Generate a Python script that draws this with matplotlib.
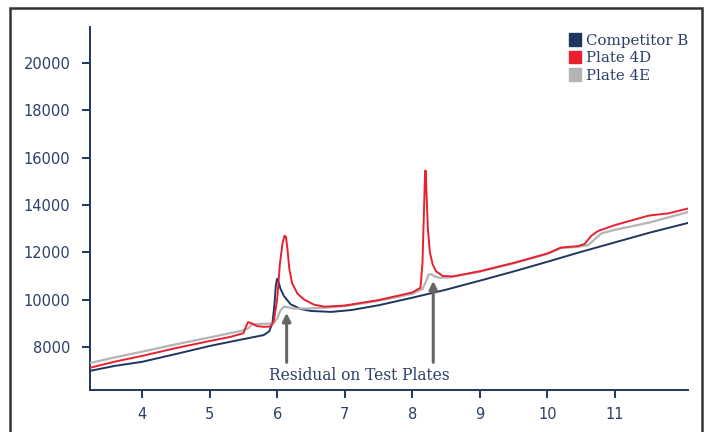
import numpy as np
import matplotlib.pyplot as plt
from matplotlib.patches import Patch, Rectangle

# Competitor B
comp_x = [3.23, 3.6, 4.0, 4.5, 5.0, 5.5, 5.8, 5.88, 5.93, 5.96, 5.98, 6.0, 6.02,
          6.05, 6.1, 6.2, 6.35, 6.5, 6.8, 7.1, 7.5, 8.0, 8.5, 9.0, 9.5, 10.0,
          10.5, 11.0, 11.5, 12.08]
comp_y = [6990, 7200, 7370, 7700, 8040, 8330, 8500, 8650, 9000, 9800, 10600, 10880, 10750,
          10450, 10150, 9800, 9600, 9520, 9480, 9560, 9760, 10080, 10420, 10800, 11190, 11600,
          12020, 12420, 12820, 13240]

# Plate 4D
p4d_x = [3.23, 3.6, 4.0, 4.5, 5.0, 5.3, 5.5, 5.53, 5.57, 5.62, 5.7, 5.8, 5.9, 5.95,
         6.0, 6.04, 6.08, 6.11, 6.13, 6.15, 6.18, 6.22, 6.3, 6.4, 6.55, 6.7, 7.0,
         7.5, 8.0, 8.12, 8.15, 8.17, 8.19, 8.2, 8.21, 8.23, 8.26, 8.3, 8.35, 8.45,
         8.6, 9.0, 9.5, 10.0, 10.2, 10.45, 10.55, 10.65, 10.75, 11.0, 11.5, 11.8, 12.08]
p4d_y = [7120, 7380, 7620, 7950, 8250, 8420, 8580, 8800, 9050, 9000, 8880, 8850, 8860, 9100,
         10000, 11500, 12400, 12700, 12650, 12200, 11300, 10700, 10250, 10000, 9780, 9700, 9750,
         9980, 10300, 10500, 11500, 13500, 15450, 15450, 14500, 13000, 12000, 11500, 11200, 11000,
         10980, 11200, 11550, 11950, 12200, 12260, 12350, 12700, 12900, 13150, 13550, 13650, 13850]

# Plate 4E
p4e_x = [3.23, 3.6, 4.0, 4.5, 5.0, 5.5, 5.58, 5.62, 5.7, 5.85, 5.95, 6.0, 6.05, 6.1,
         6.15, 6.25, 6.4, 6.6, 7.0, 7.5, 8.0, 8.15, 8.2, 8.24, 8.28, 8.33, 8.4, 8.55,
         9.0, 9.5, 10.0, 10.2, 10.45, 10.6, 10.7, 10.8, 11.0, 11.5, 12.08]
p4e_y = [7320, 7560, 7800, 8110, 8400, 8700, 8800, 8950, 8970, 8980, 9000, 9200, 9550, 9700,
         9680, 9620, 9620, 9640, 9720, 9950, 10250, 10450, 10750, 11050, 11080, 10980, 10920, 10940,
         11180, 11530, 11930, 12180, 12230, 12300, 12550, 12800, 12950, 13250, 13700]

xticks = [4, 5, 6, 7, 8, 9, 10, 11]
yticks = [8000, 10000, 12000, 14000, 16000, 18000, 20000]
arrow_x = [6.14, 8.31]
arrow_y = [9440, 10790]

navy = "#1f3660"
red = "#e8202f"
gray = "#b4b4b4"
txt = "#2b3f68"

fig = plt.figure(figsize=(7.07, 4.32), dpi=100)
ax = fig.add_axes([90/707, 42/432, 598/707, 363/432])

ax.plot(comp_x, comp_y, color=navy, lw=1.4, zorder=2)
ax.plot(p4e_x, p4e_y, color=gray, lw=1.6, zorder=3)
ax.plot(p4d_x, p4d_y, color=red, lw=1.4, zorder=4)

for xa, ya in zip(arrow_x, arrow_y):
    ax.annotate("", xy=(xa, ya), xytext=(xa, 7350),
                arrowprops=dict(arrowstyle="-|>", color="#666666", lw=2.2,
                                mutation_scale=12, shrinkA=0, shrinkB=0))
ax.text(7.22, 7170, "Residual on Test Plates", ha="center", va="top",
        fontsize=11.2, family="DejaVu Serif", color=txt)

ax.set_xlim(3.23, 12.08)
ax.set_ylim(6180, 21520)
ax.set_xticks(xticks)
ax.set_yticks(yticks)
ax.tick_params(colors=navy, labelcolor=txt, length=6, width=1.4, labelsize=10.5)
ax.tick_params(axis="y", pad=8)
ax.tick_params(axis="x", pad=6)
for s in ["top", "right"]:
    ax.spines[s].set_visible(False)
for s in ["left", "bottom"]:
    ax.spines[s].set_color(navy)
    ax.spines[s].set_linewidth(1.4)

handles = [Patch(color=navy, label="Competitor B"),
           Patch(color=red, label="Plate 4D"),
           Patch(color=gray, label="Plate 4E")]
fig.legend(handles=handles, loc="upper left", bbox_to_anchor=(555/707, 1 - 20/432),
           frameon=False, handlelength=0.8, handleheight=0.9, handletextpad=0.35,
           labelspacing=0.2, prop={"family": "DejaVu Serif", "size": 10.8},
           labelcolor=txt)

fig.patches.append(Rectangle((10/707, -0.1), 692/707, 1.1 - 8/432, transform=fig.transFigure,
                             fill=False, edgecolor="#333333", lw=1.8))

fig.savefig("out.png", dpi=100)
